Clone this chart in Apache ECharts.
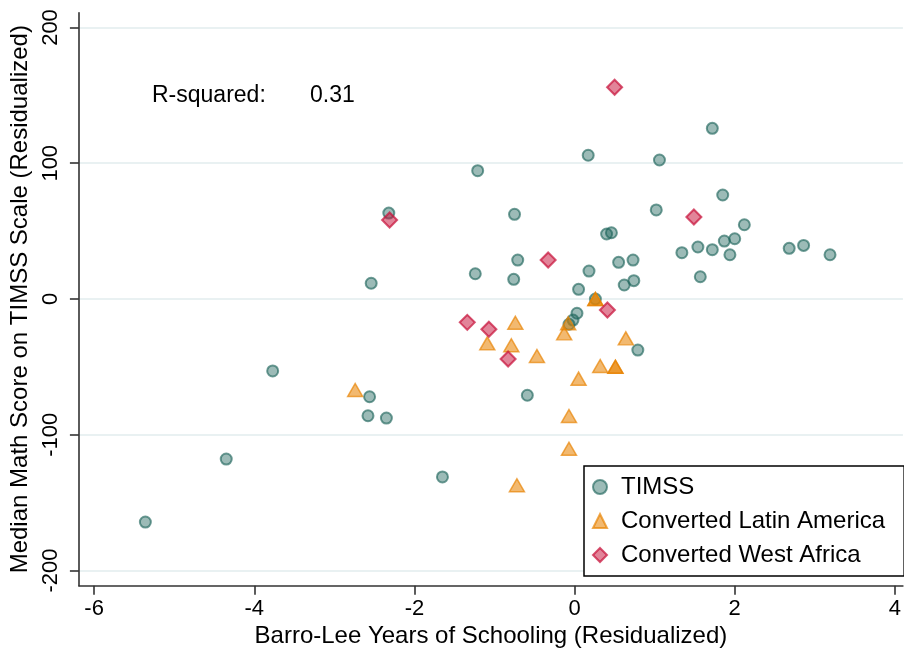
<!DOCTYPE html>
<html>
<head>
<meta charset="utf-8">
<title>Math score vs schooling</title>
<script src="https://cdn.jsdelivr.net/npm/echarts@6/dist/echarts.min.js"></script>
<style>
  html, body { margin: 0; padding: 0; background: #fff; }
  #chart { width: 904px; height: 654px; }
</style>
</head>
<body>
<div id="chart"></div>
<script>
// series names
var seriesNames = ['TIMSS', 'Converted Latin America', 'Converted West Africa'];

// TIMSS countries
var timssX = [-5.36, -4.35, -3.77, -2.56, -2.58, -2.35, -1.65, -2.32, -2.54, -1.21, -1.24,
  -0.75, -0.71, -0.76, 0.17, 1.06, 1.72, 1.85, 1.02, 2.12, 0.40, 0.46, 1.34, 1.54, 1.72,
  1.87, 2.00, 1.94, 1.57, 2.68, 2.86, 3.19, 0.55, 0.73, 0.18, 0.62, 0.74, 0.05, 0.26,
  0.03, -0.02, -0.07, 0.79, -0.59];
var timssY = [-164.3, -117.9, -53.0, -72.0, -86.0, -87.7, -131.1, 63.3, 11.6, 94.5, 18.6,
  62.4, 28.7, 14.5, 105.9, 102.4, 125.7, 76.6, 65.6, 54.7, 47.9, 48.8, 34.1, 38.3, 36.3,
  42.7, 44.4, 32.6, 16.4, 37.3, 39.5, 32.6, 27.0, 28.7, 20.6, 10.3, 13.5, 7.1, 0.0,
  -10.5, -15.5, -18.6, -37.6, -70.9];

// converted Latin America
var latamX = [-0.74, -1.09, -0.79, -0.47, -0.08, -0.13, 0.26, 0.26, 0.64, 0.32, 0.51, 0.51,
  0.05, -0.07, -0.07, -0.72, -2.74];
var latamY = [-17.5, -32.7, -34.1, -42.0, -17.9, -25.3, 0.0, 0.0, -29.0, -49.4, -49.9, -49.9,
  -58.7, -86.2, -110.3, -137.2, -67.0];

// converted West Africa
var wafrX = [0.50, -2.31, -0.33, 1.49, 0.41, -1.34, -1.07, -0.83];
var wafrY = [156.0, 58.2, 28.7, 60.4, -8.1, -17.2, -22.3, -44.2];

// axis ticks
var xTicks = [-6, -4, -2, 0, 2, 4];
var yTicks = [-200, -100, 0, 100, 200];

var rsqLabel = 'R-squared:';
var rsqValue = '0.31';

function pairs(xs, ys) {
  var out = [];
  for (var i = 0; i < xs.length; i++) out.push([xs[i], ys[i]]);
  return out;
}

var font = 'Liberation Sans, Arial, sans-serif';
var myChart = echarts.init(document.getElementById('chart'), null, { renderer: 'canvas' });

var option = {
  backgroundColor: '#fff',
  animation: false,
  grid: { left: 78.7, right: 0, top: 12.7, bottom: 654 - 585.7, containLabel: false },
  xAxis: {
    type: 'value',
    min: -6.19,
    max: 4.10,
    name: 'Barro-Lee Years of Schooling (Residualized)',
    nameLocation: 'middle',
    nameGap: 37,
    nameTextStyle: { fontFamily: font, fontSize: 24, color: '#000' },
    axisLine: { show: true, onZero: false, lineStyle: { color: '#333', width: 1.6 } },
    axisTick: { show: true, length: 9, customValues: xTicks, lineStyle: { color: '#333', width: 1.6 } },
    axisLabel: { customValues: xTicks, margin: 12, fontFamily: font, fontSize: 22, color: '#000' },
    splitLine: { show: false }
  },
  yAxis: {
    type: 'value',
    min: -211.2,
    max: 210.9,
    name: 'Median Math Score on TIMSS Scale (Residualized)',
    nameLocation: 'middle',
    nameGap: 44,
    nameTextStyle: { fontFamily: font, fontSize: 24, color: '#000' },
    axisLine: { show: true, onZero: false, lineStyle: { color: '#333', width: 1.6 } },
    axisTick: { show: true, length: 9, customValues: yTicks, lineStyle: { color: '#333', width: 1.6 } },
    axisLabel: { customValues: yTicks, rotate: 90, margin: 17, fontFamily: font, fontSize: 22, color: '#000' },
    splitLine: { show: true, lineStyle: { color: '#e9f1f2', width: 2 } }
  },
  legend: {
    orient: 'vertical',
    left: 584,
    top: 466,
    padding: [9, 19, 9, 8],
    itemGap: 10,
    itemWidth: 14,
    itemHeight: 14,
    borderColor: '#000',
    borderWidth: 1.5,
    backgroundColor: '#fff',
    data: seriesNames,
    textStyle: { fontFamily: font, fontSize: 24, color: '#000', padding: [0, 0, 0, 9] }
  },
  graphic: [
    { type: 'text', left: 152, top: 84, style: { text: rsqLabel, font: '23px ' + font, fill: '#000' } },
    { type: 'text', left: 310, top: 84, style: { text: rsqValue, font: '23px ' + font, fill: '#000' } }
  ],
  series: [
    {
      name: seriesNames[0],
      type: 'scatter',
      symbol: 'circle',
      symbolSize: 11,
      data: pairs(timssX, timssY),
      itemStyle: { color: 'rgba(30,100,90,0.55)', borderColor: 'rgba(30,100,90,0.8)', borderWidth: 2 }
    },
    {
      name: seriesNames[1],
      type: 'scatter',
      symbol: 'triangle',
      symbolSize: [15, 13],
      data: pairs(latamX, latamY),
      itemStyle: { color: 'rgba(232,130,0,0.7)', borderColor: 'rgba(232,130,0,0.85)', borderWidth: 1.5 }
    },
    {
      name: seriesNames[2],
      type: 'scatter',
      symbol: 'diamond',
      symbolSize: 15,
      data: pairs(wafrX, wafrY),
      itemStyle: { color: 'rgba(200,20,60,0.65)', borderColor: 'rgba(200,20,60,0.9)', borderWidth: 2 }
    }
  ]
};

myChart.setOption(option);
</script>
</body>
</html>
